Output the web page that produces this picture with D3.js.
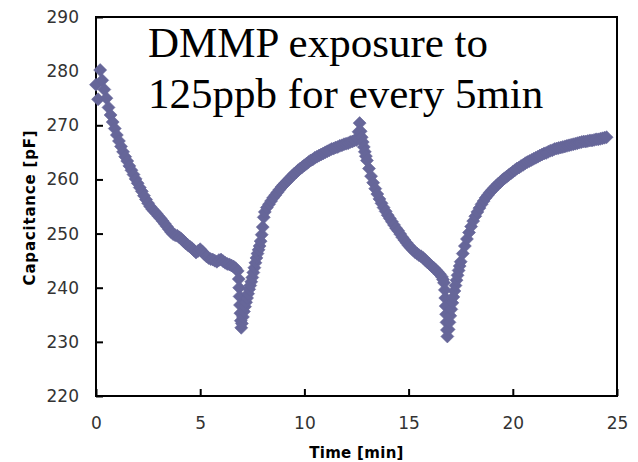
<!DOCTYPE html>
<html>
<head>
<meta charset="utf-8">
<script src="https://cdn.jsdelivr.net/npm/d3@7"></script>
<style>
  html, body { margin: 0; padding: 0; background: #fff; }
  svg { display: block; }
</style>
</head>
<body>
<div id="chart"></div>
<script>
// Capacitance response to DMMP exposure
// each entry is [time in min, capacitance in pF]

const decay1 = [
  [0.0, 277.5], [0.1, 274.8], [0.2, 280.2], [0.3, 278.3], [0.4, 276.6], [0.5, 275.0],
  [0.6, 273.3], [0.7, 271.9], [0.8, 270.6], [0.9, 269.4], [1.0, 268.2], [1.1, 267.1],
  [1.2, 266.1], [1.3, 265.1], [1.4, 264.2], [1.5, 263.4], [1.6, 262.5], [1.7, 261.7],
  [1.8, 260.9], [1.9, 260.1], [2.0, 259.3], [2.1, 258.5], [2.2, 257.8], [2.3, 257.0],
  [2.4, 256.3], [2.5, 255.6], [2.6, 255.0], [2.7, 254.5], [2.8, 254.1], [2.9, 253.7],
  [3.0, 253.2], [3.1, 252.8], [3.2, 252.3], [3.3, 251.8], [3.4, 251.3], [3.5, 250.8],
  [3.6, 250.3], [3.7, 249.9], [3.8, 249.7], [3.9, 249.6], [4.0, 249.3], [4.1, 249.0],
  [4.2, 248.6], [4.3, 248.2], [4.4, 247.9], [4.5, 247.6], [4.6, 247.3], [4.7, 246.9],
  [4.8, 246.5], [4.9, 246.8], [5.0, 247.1], [5.1, 246.7], [5.2, 246.2], [5.3, 245.8],
  [5.4, 245.5], [5.5, 245.3], [5.6, 245.2], [5.7, 245.0], [5.8, 244.8], [5.9, 245.1],
  [6.0, 245.2], [6.1, 244.9], [6.2, 244.6], [6.3, 244.4], [6.4, 244.3], [6.5, 244.1],
  [6.6, 243.9], [6.7, 243.6], [6.8, 243.1],
  [6.85, 241.6], [6.87, 240.0], [6.89, 238.4], [6.91, 236.8], [6.93, 235.3], [6.95, 233.9],
  [6.97, 232.6]
];

const rise1 = [
  [7.0, 233.4], [7.05, 234.6], [7.1, 235.6], [7.15, 236.5], [7.2, 237.3], [7.25, 238.1],
  [7.3, 238.9], [7.35, 239.7], [7.4, 240.4], [7.45, 241.1], [7.5, 241.9], [7.55, 242.8],
  [7.6, 243.7], [7.65, 244.6], [7.7, 245.5], [7.75, 246.3], [7.8, 247.0], [7.85, 247.7],
  [7.9, 248.6], [7.95, 249.8], [8.0, 251.2], [8.05, 253.0], [8.1, 254.0], [8.2, 254.8],
  [8.3, 255.4], [8.4, 256.0], [8.5, 256.6], [8.6, 257.1], [8.7, 257.6], [8.8, 258.1],
  [8.9, 258.6], [9.0, 259.0], [9.1, 259.4], [9.2, 259.8], [9.3, 260.2], [9.4, 260.6],
  [9.5, 261.0], [9.6, 261.3], [9.7, 261.7], [9.8, 262.0], [9.9, 262.3], [10.0, 262.6],
  [10.1, 262.9], [10.2, 263.2], [10.3, 263.5], [10.4, 263.7], [10.5, 264.0], [10.6, 264.2],
  [10.7, 264.4], [10.8, 264.6], [10.9, 264.8], [11.0, 265.0], [11.1, 265.2], [11.2, 265.4],
  [11.3, 265.6], [11.4, 265.7], [11.5, 265.9], [11.6, 266.0], [11.7, 266.2], [11.8, 266.3],
  [11.9, 266.5], [12.0, 266.6], [12.1, 266.7], [12.2, 266.9], [12.3, 267.0], [12.4, 267.2],
  [12.5, 267.3], [12.55, 267.6], [12.6, 268.8]
];

const decay2 = [
  [12.65, 270.4], [12.7, 268.9], [12.75, 267.8], [12.8, 266.9], [12.85, 266.0], [12.9, 265.1],
  [12.95, 264.3], [13.0, 263.5], [13.1, 262.0], [13.2, 260.6], [13.3, 259.4], [13.4, 258.3],
  [13.5, 257.3], [13.6, 256.4], [13.7, 255.6], [13.8, 254.8], [13.9, 254.1], [14.0, 253.4],
  [14.1, 252.8], [14.2, 252.2], [14.3, 251.6], [14.4, 251.0], [14.5, 250.5], [14.6, 249.9],
  [14.7, 249.3], [14.8, 248.8], [14.9, 248.3], [15.0, 247.8], [15.1, 247.4], [15.2, 247.0],
  [15.3, 246.6], [15.4, 246.3], [15.5, 246.0], [15.6, 245.8], [15.7, 245.5], [15.8, 245.1],
  [15.9, 244.7], [16.0, 244.4], [16.1, 244.0], [16.2, 243.7], [16.3, 243.3], [16.4, 242.9],
  [16.5, 242.5], [16.6, 242.0], [16.65, 241.5], [16.7, 240.9],
  [16.74, 239.6], [16.76, 238.1], [16.78, 236.6], [16.8, 235.1], [16.82, 233.6], [16.84, 232.2],
  [16.86, 231.0]
];

const rise2 = [
  [16.92, 232.3], [16.96, 233.6], [17.0, 234.8], [17.05, 236.0], [17.1, 237.2], [17.15, 238.3],
  [17.2, 239.4], [17.25, 240.4], [17.3, 241.4], [17.35, 242.3], [17.4, 243.2], [17.45, 244.0],
  [17.5, 244.8], [17.6, 246.3], [17.7, 247.7], [17.8, 249.0], [17.9, 250.2], [18.0, 251.3],
  [18.1, 252.3], [18.2, 253.2], [18.3, 254.0], [18.4, 254.7], [18.5, 255.4], [18.6, 256.0],
  [18.7, 256.6], [18.8, 257.1], [18.9, 257.6], [19.0, 258.0], [19.1, 258.4], [19.2, 258.8],
  [19.3, 259.2], [19.4, 259.5], [19.5, 259.9], [19.6, 260.2], [19.7, 260.5], [19.8, 260.8],
  [19.9, 261.1], [20.0, 261.4], [20.1, 261.7], [20.2, 262.0], [20.3, 262.2], [20.4, 262.5],
  [20.5, 262.7], [20.6, 263.0], [20.7, 263.2], [20.8, 263.4], [20.9, 263.6], [21.0, 263.8],
  [21.1, 264.0], [21.2, 264.2], [21.3, 264.4], [21.4, 264.6], [21.5, 264.8], [21.6, 264.9],
  [21.7, 265.1], [21.8, 265.3], [21.9, 265.4], [22.0, 265.6], [22.1, 265.7], [22.2, 265.8],
  [22.3, 265.9], [22.4, 266.0], [22.5, 266.1], [22.6, 266.2], [22.7, 266.3], [22.8, 266.4],
  [22.9, 266.5], [23.0, 266.6], [23.1, 266.7], [23.2, 266.8], [23.3, 266.9], [23.4, 267.0],
  [23.5, 267.0], [23.6, 267.1], [23.7, 267.2], [23.8, 267.2], [23.9, 267.3], [24.0, 267.4],
  [24.1, 267.4], [24.2, 267.5], [24.3, 267.6], [24.4, 267.7], [24.5, 267.8]
];

const xTicks = [0, 5, 10, 15, 20, 25];
const yTicks = [220, 230, 240, 250, 260, 270, 280, 290];
const noteLines = ['DMMP exposure to', '125ppb for every 5min'];

const W = 638, H = 462;
const margin = { top: 17, right: 21, bottom: 66, left: 96 };
const width = W - margin.left - margin.right;
const height = H - margin.top - margin.bottom;

const svg = d3.select('#chart').append('svg')
  .attr('width', W).attr('height', H);

const g = svg.append('g')
  .attr('transform', `translate(${margin.left},${margin.top})`);

const x = d3.scaleLinear().domain([0, 25]).range([0, width]);
const y = d3.scaleLinear().domain([220, 290]).range([height, 0]);

// Axes (ticks point inward, frame drawn separately)
const xAxis = g.append('g')
  .attr('transform', `translate(0,${height})`)
  .call(d3.axisBottom(x).tickValues(xTicks).tickSizeInner(-7).tickSizeOuter(0).tickPadding(21));

const yAxis = g.append('g')
  .call(d3.axisLeft(y).tickValues(yTicks).tickSizeInner(-7).tickSizeOuter(0).tickPadding(17));

[xAxis, yAxis].forEach(ax => {
  ax.select('.domain').remove();
  ax.selectAll('line').attr('stroke', '#000').attr('stroke-width', 2);
  ax.selectAll('text')
    .attr('font-family', 'DejaVu Sans, sans-serif')
    .attr('font-size', '17px')
    .attr('fill', '#333');
});

g.append('rect')
  .attr('x', 0).attr('y', 0)
  .attr('width', width).attr('height', height)
  .attr('fill', 'none')
  .attr('stroke', '#000').attr('stroke-width', 2);

// Data points as diamonds
const diamond = 'M0,-6.5L6.5,0L0,6.5L-6.5,0Z';
const allPoints = [...decay1, ...rise1, ...decay2, ...rise2];

g.append('g').selectAll('path')
  .data(allPoints)
  .join('path')
  .attr('d', diamond)
  .attr('transform', d => `translate(${x(d[0])},${y(d[1])})`)
  .attr('fill', '#666699')
  .attr('stroke', '#666699').attr('stroke-width', 0.6);

// Axis titles
svg.append('text')
  .attr('x', margin.left + width / 2)
  .attr('y', 458)
  .attr('text-anchor', 'middle')
  .attr('font-family', 'DejaVu Sans, sans-serif')
  .attr('font-size', '15px')
  .attr('font-weight', 'bold')
  .attr('letter-spacing', '0.3px')
  .attr('fill', '#000')
  .text('Time [min]');

svg.append('text')
  .attr('transform', `translate(35,${margin.top + height / 2 + 1}) rotate(-90)`)
  .attr('text-anchor', 'middle')
  .attr('font-family', 'DejaVu Sans, sans-serif')
  .attr('font-size', '15px')
  .attr('font-weight', 'bold')
  .attr('letter-spacing', '0.8px')
  .attr('fill', '#000')
  .text('Capacitance [pF]');

// Annotation
const note = svg.append('text')
  .attr('font-family', 'Liberation Serif, Times New Roman, serif')
  .attr('font-size', '43px')
  .attr('fill', '#000');

noteLines.forEach((line, i) => {
  note.append('tspan')
    .attr('x', 148)
    .attr('y', 57 + i * 51)
    .text(line);
});
</script>
</body>
</html>
